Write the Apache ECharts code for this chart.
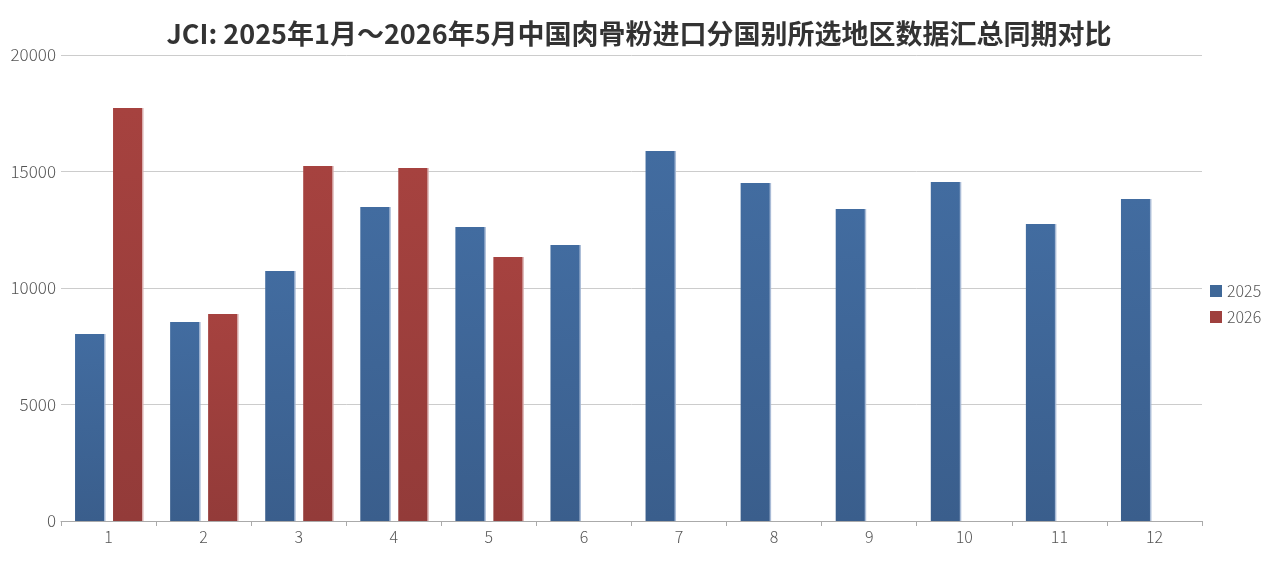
<!DOCTYPE html>
<html>
<head>
<meta charset="utf-8">
<script src="https://cdn.jsdelivr.net/npm/echarts@6/dist/echarts.min.js"></script>
<style>
  html, body { margin: 0; padding: 0; background: #fff; }
  #chart { width: 1278px; height: 562px; }
</style>
</head>
<body>
<div id="chart"></div>
<script>
// 月份
var months = ['1', '2', '3', '4', '5', '6', '7', '8', '9', '10', '11', '12'];
// 2025年 各月数据
var data2025 = [8030, 8540, 10730, 13480, 12620, 11850, 15880, 14510, 13390, 14550, 12750, 13820];
// 2026年 1-5月数据
var data2026 = [17730, 8880, 15240, 15150, 11330];

var titleText = 'JCI: 2025年1月～2026年5月中国肉骨粉进口分国别所选地区数据汇总同期对比';

function grad(top, bottom) {
  return new echarts.graphic.LinearGradient(0, 0, 0, 1, [
    { offset: 0, color: top },
    { offset: 1, color: bottom }
  ]);
}

var labelFont = { fontFamily: 'Noto Sans CJK SC', fontWeight: 300, fontSize: 16, color: '#555' };

var myChart = echarts.init(document.getElementById('chart'));
var option = {
  backgroundColor: '#fff',
  animation: false,
  title: {
    text: titleText,
    left: 'center',
    top: 15,
    textStyle: {
      fontFamily: 'Noto Sans CJK SC',
      fontSize: 27,
      fontWeight: 'bold',
      color: '#333'
    }
  },
  legend: {
    orient: 'vertical',
    left: 1205,
    top: 278,
    itemWidth: 12,
    itemHeight: 12,
    itemGap: 10,
    icon: 'rect',
    textStyle: labelFont,
    data: [
      { name: '2025', itemStyle: { color: '#3f6898' } },
      { name: '2026', itemStyle: { color: '#9f403e' } }
    ]
  },
  grid: { left: 61, right: 76, top: 55, bottom: 41 },
  xAxis: {
    type: 'category',
    data: months,
    axisLine: { lineStyle: { color: '#aaa' } },
    axisTick: { show: true, length: 5, lineStyle: { color: '#aaa' } },
    axisLabel: Object.assign({ margin: 8 }, labelFont)
  },
  yAxis: {
    type: 'value',
    min: 0,
    max: 20000,
    interval: 5000,
    axisLine: { show: false },
    axisTick: { show: false },
    axisLabel: Object.assign({}, labelFont, { margin: 5, fontSize: 17, formatter: function (v) { return String(v); } }),
    splitLine: { lineStyle: { color: '#ccc', width: 1 } }
  },
  series: [
    {
      name: '2025',
      type: 'bar',
      barWidth: 29,
      barGap: '31%',
      data: data2025,
      itemStyle: {
        color: grad('#426ca0', '#3a5e8c'),
        shadowColor: 'rgba(160,180,210,0.9)',
        shadowOffsetX: 1.5,
        shadowBlur: 0
      }
    },
    {
      name: '2026',
      type: 'bar',
      barWidth: 29,
      data: data2026,
      itemStyle: {
        color: grad('#a6423f', '#933b39'),
        shadowColor: 'rgba(215,170,170,0.9)',
        shadowOffsetX: 1.5,
        shadowBlur: 0
      }
    }
  ]
};
myChart.setOption(option);
</script>
</body>
</html>
